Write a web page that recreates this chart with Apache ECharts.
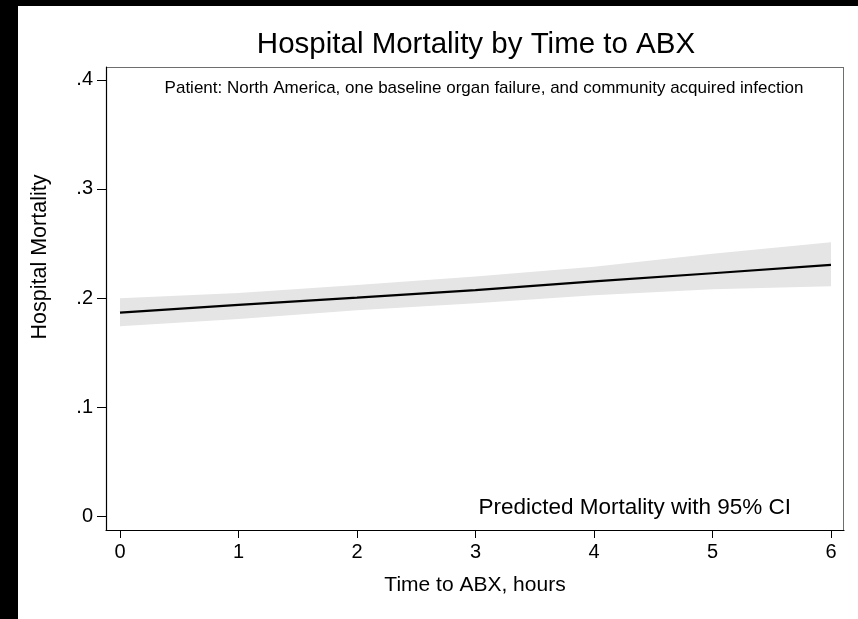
<!DOCTYPE html>
<html>
<head>
<meta charset="utf-8">
<script src="https://cdn.jsdelivr.net/npm/echarts@6/dist/echarts.min.js"></script>
<style>
html,body{margin:0;padding:0;background:#fff;}
#chart{width:858px;height:619px;}
</style>
</head>
<body>
<div id="chart"></div>
<script>
// ---- data ----
const hours = [0, 1, 2, 3, 4, 5, 6];
const predicted = [0.1865, 0.1936, 0.2003, 0.2073, 0.2152, 0.2227, 0.2303];
const ciLow  = [0.1740, 0.1807, 0.1887, 0.1952, 0.2025, 0.2080, 0.2107];
const ciHigh = [0.1997, 0.2046, 0.2119, 0.2196, 0.2287, 0.2405, 0.2511];
const yTicks = [0, 0.1, 0.2, 0.3, 0.4];
const yTickLabels = ['0', '.1', '.2', '.3', '.4'];
const xTicks = [0, 1, 2, 3, 4, 5, 6];
const xTickLabels = ['0', '1', '2', '3', '4', '5', '6'];

const FONT = '"Liberation Sans", Arial, Helvetica, sans-serif';
const chart = echarts.init(document.getElementById('chart'), null, {renderer: 'canvas'});

const bandRows = hours.map((h, i) => [h, ciLow[i], ciHigh[i]]);
const lineData = hours.map((h, i) => [h, predicted[i]]);

chart.setOption({
  backgroundColor: '#ffffff',
  animation: false,
  grid: {left: 106, top: 67, width: 738, height: 463, containLabel: false},
  xAxis: {
    type: 'value', min: -0.118, max: 6.11,
    axisLine: {show: true, onZero: false, lineStyle: {color: '#000', width: 1.2}},
    axisTick: {show: true, length: 8, customValues: xTicks, lineStyle: {color: '#000', width: 1}},
    axisLabel: {color: '#000', fontSize: 20, fontFamily: FONT, margin: 12, customValues: xTicks,
      formatter: v => xTickLabels[xTicks.indexOf(Math.round(v))]},
    splitLine: {show: false},
    name: 'Time to ABX, hours', nameLocation: 'middle', nameGap: 45,
    nameTextStyle: {color: '#000', fontSize: 21, fontFamily: FONT}
  },
  yAxis: {
    type: 'value', min: -0.01284, max: 0.4119,
    axisLine: {show: true, onZero: false, lineStyle: {color: '#000', width: 1.2}},
    axisTick: {show: true, length: 9, customValues: yTicks, lineStyle: {color: '#000', width: 1}},
    axisLabel: {color: '#000', fontSize: 20, fontFamily: FONT, margin: 13, customValues: yTicks,
      formatter: v => yTickLabels[Math.round(v * 10)]},
    splitLine: {show: false}
  },
  graphic: [
    {type: 'rect', shape: {x: 0, y: 0, width: 18, height: 619}, style: {fill: '#000'}, silent: true},
    {type: 'rect', shape: {x: 0, y: 0, width: 858, height: 6}, style: {fill: '#000'}, silent: true},
    {type: 'line', shape: {x1: 106, y1: 67.5, x2: 844, y2: 67.5}, style: {stroke: '#6e6e6e', lineWidth: 1}, silent: true},
    {type: 'line', shape: {x1: 843.5, y1: 67, x2: 843.5, y2: 530}, style: {stroke: '#6e6e6e', lineWidth: 1}, silent: true},
    {type: 'text', x: 476, y: 45, style: {text: 'Hospital Mortality by Time to ABX', fill: '#000', font: '29.5px ' + FONT, align: 'center', verticalAlign: 'middle'}, silent: true},
    {type: 'text', x: 484, y: 88, style: {text: 'Patient: North America, one baseline organ failure, and community acquired infection', fill: '#000', font: '17px ' + FONT, align: 'center', verticalAlign: 'middle'}, silent: true},
    {type: 'text', x: 791, y: 508, style: {text: 'Predicted Mortality with 95% CI', fill: '#000', font: '22.5px ' + FONT, align: 'right', verticalAlign: 'middle'}, silent: true},
    {type: 'text', x: 40, y: 257, rotation: Math.PI / 2, style: {text: 'Hospital Mortality', fill: '#000', font: '21.5px ' + FONT, align: 'center', verticalAlign: 'middle'}, silent: true}
  ],
  series: [
    {
      type: 'custom', data: bandRows, silent: true, z: 1,
      encode: {x: 0, y: [1, 2]},
      renderItem: function (params, api) {
        if (params.dataIndex !== 0) return null;
        const upper = [], lower = [];
        for (let i = 0; i < bandRows.length; i++) {
          upper.push(api.coord([bandRows[i][0], bandRows[i][2]]));
          lower.push(api.coord([bandRows[i][0], bandRows[i][1]]));
        }
        return {
          type: 'polygon',
          shape: {points: upper.concat(lower.reverse())},
          style: {fill: '#e5e5e5', stroke: 'none'}
        };
      }
    },
    {type: 'line', data: lineData, symbol: 'none', lineStyle: {color: '#000', width: 2.2}, silent: true, z: 3}
  ]
});
</script>
</body>
</html>
